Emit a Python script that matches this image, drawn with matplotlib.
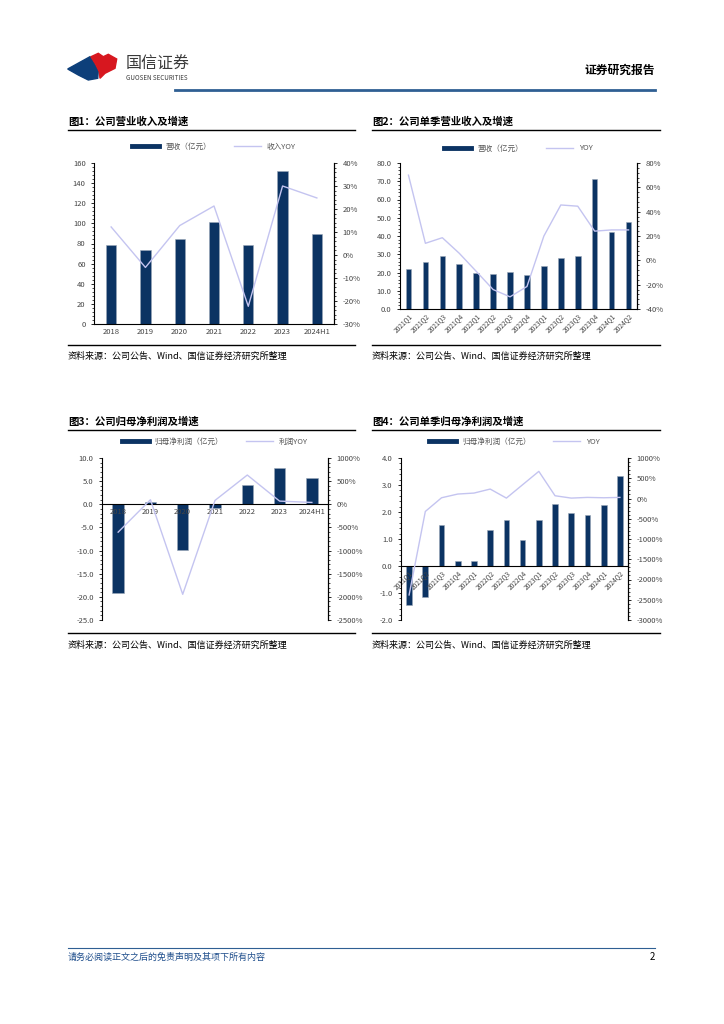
import matplotlib
matplotlib.use("Agg")
import matplotlib.pyplot as plt
import matplotlib.patches as mpatches
from matplotlib.lines import Line2D
from matplotlib.ticker import FuncFormatter, MultipleLocator, AutoMinorLocator

plt.rcParams['font.family'] = ['Noto Sans CJK SC', 'DejaVu Sans']
plt.rcParams['axes.unicode_minus'] = False

W, H = 724, 1024
NAVY = '#0b3363'
LAV = '#c4c4f0'
BLUE_LINE = '#2f5f93'

# ---- data ----
years = ['2018', '2019', '2020', '2021', '2022', '2023', '2024H1']
quarters = ['2021Q1', '2021Q2', '2021Q3', '2021Q4', '2022Q1', '2022Q2', '2022Q3',
            '2022Q4', '2023Q1', '2023Q2', '2023Q3', '2023Q4', '2024Q1', '2024Q2']

rev_year = [78.2, 73.5, 84.1, 101.0, 78.2, 152.0, 89.8]
rev_year_yoy = [12.2, -5.4, 12.8, 21.3, -22.3, 30.0, 24.8]

rev_q = [22.0, 25.8, 29.1, 24.4, 19.8, 19.3, 20.2, 18.9, 23.8, 28.2, 29.1, 71.1, 42.2, 47.6]
rev_q_yoy = [70.0, 14.0, 18.6, 5.8, -9.0, -24.0, -30.0, -21.5, 20.0, 45.5, 44.5, 24.0, 25.0, 25.0]

np_year = [-19.1, 0.4, -9.8, -0.75, 4.2, 7.9, 5.7]
np_year_yoy = [-602, 98, -1945, 84, 632, 69, 40]

np_q = [-1.46, -1.13, 1.53, 0.2, 0.2, 1.34, 1.71, 0.95, 1.71, 2.31, 1.97, 1.9, 2.26, 3.35]
np_q_yoy = [-2381, -320, 18, 110, 134, 233, 10, 340, 670, 68, 10, 27, 18, 27]

fig = plt.figure(figsize=(W / 100, H / 100), dpi=100)


def px_axes(x0, y0, x1, y1):
    return fig.add_axes([x0 / W, 1 - y1 / H, (x1 - x0) / W, (y1 - y0) / H])


def ftext(x, y, s, **kw):
    fig.text(x / W, 1 - y / H, s, **kw)


def fline(x0, x1, y, color='black', lw=1.0):
    fig.add_artist(Line2D([x0 / W, x1 / W], [1 - y / H, 1 - y / H], color=color, lw=lw))


def fpoly(pts, color):
    fig.add_artist(mpatches.Polygon([(px / W, 1 - py / H) for px, py in pts], closed=True,
                                    color=color, transform=fig.transFigure))


# ---- header ----
fpoly([(67.7, 69), (90, 56.7), (94.3, 63.3), (98.3, 71), (97.7, 78.3), (88.3, 80), (78.3, 75)],
      '#0d3f7a')
fpoly([(91, 56.7), (98.3, 53.3), (103.3, 56.7), (108.3, 54.3), (116.7, 59), (115, 68.3),
       (105, 73.3), (100, 78.3), (99.3, 71.7), (95.7, 64.3)], '#d7171f')
ftext(126, 64, '国信证券', fontsize=11.5, color='#3a3a3a', va='center')
ftext(126, 78, 'GUOSEN SECURITIES', fontsize=4.5, color='#3a3a3a', va='center')
ftext(655, 70, '证券研究报告', fontsize=8.5, fontweight='bold', ha='right', va='center')
fline(175, 655, 90, color=BLUE_LINE, lw=2)

# ---- footer ----
fline(68, 655, 948, color=BLUE_LINE, lw=0.8)
ftext(68, 957, '请务必阅读正文之后的免责声明及其项下所有内容', fontsize=6.5, color='#1f4e8c',
      style='italic', va='center')
ftext(655, 957, '2', fontsize=7, ha='right', va='center')

TICK_FS = 5.5
SRC = '资料来源：公司公告、Wind、国信证券经济研究所整理'


def panel_frame(x0, x1, ytitle, yline, ysrc_line, ysrc, title):
    ftext(x0, ytitle, title, fontsize=7.5, fontweight='bold', va='center')
    fline(x0, x1, yline, lw=1.0)
    fline(x0, x1, ysrc_line, lw=1.0)
    ftext(x0, ysrc, SRC, fontsize=6.5, va='center')


def style_axes(ax, ax2):
    for a in (ax, ax2):
        a.spines['top'].set_visible(False)
        a.tick_params(labelsize=TICK_FS, colors='black', labelcolor='#444444',
                      length=2.5, width=0.6)
    ax.spines['left'].set_linewidth(0.8)
    ax2.spines['right'].set_linewidth(0.8)
    ax2.spines['left'].set_visible(False)
    ax2.spines['bottom'].set_visible(False)
    ax2.yaxis.set_minor_locator(AutoMinorLocator(5))
    ax2.tick_params(axis='y', which='minor', length=1.5, width=0.5)
    ax.yaxis.set_minor_locator(AutoMinorLocator(5))
    ax.tick_params(axis='y', which='minor', length=1.5, width=0.5)


def add_legend(ax, bar_label, line_label, y_fig):
    handles = [Line2D([], [], color=NAVY, lw=3.5), Line2D([], [], color=LAV, lw=1.0)]
    ax.legend(handles, [bar_label, line_label], loc='center', ncol=2, frameon=False,
              fontsize=5.5, handlelength=3.5, columnspacing=3,
              bbox_to_anchor=(0.5, y_fig), bbox_transform=ax.transAxes,
              labelcolor='#555555')


pct = FuncFormatter(lambda v, p: f'{v:.0f}%')
one_dec = FuncFormatter(lambda v, p: f'{v:.1f}')

# ---- chart 1 ----
panel_frame(68, 355, 122, 130, 345, 356, '图1：公司营业收入及增速')
ax = px_axes(94, 163, 334, 324)
ax2 = ax.twinx()
x = range(len(years))
ax.bar(x, rev_year, width=0.3, color=NAVY, edgecolor='#9aa7b8', linewidth=0.4)
ax2.plot(x, rev_year_yoy, color=LAV, lw=1.0)
ax.set_xlim(-0.5, len(years) - 0.5)
ax.set_ylim(0, 160)
ax.yaxis.set_major_locator(MultipleLocator(20))
ax2.set_ylim(-30, 40)
ax2.yaxis.set_major_locator(MultipleLocator(10))
ax2.yaxis.set_major_formatter(pct)
ax.set_xticks(list(x))
ax.set_xticklabels(years)
style_axes(ax, ax2)
ax.tick_params(axis='x', length=0, pad=3)
add_legend(ax, '营收（亿元）', '收入YOY', 1.1)

# ---- chart 2 ----
panel_frame(372, 660, 122, 130, 345, 356, '图2：公司单季营业收入及增速')
ax = px_axes(400, 163, 637, 309)
ax2 = ax.twinx()
x = range(len(quarters))
ax.bar(x, rev_q, width=0.33, color=NAVY, edgecolor='#9aa7b8', linewidth=0.4)
ax2.plot(x, rev_q_yoy, color=LAV, lw=1.0)
ax.set_xlim(-0.5, len(quarters) - 0.5)
ax.set_ylim(0, 80)
ax.yaxis.set_major_locator(MultipleLocator(10))
ax.yaxis.set_major_formatter(one_dec)
ax2.set_ylim(-40, 80)
ax2.yaxis.set_major_locator(MultipleLocator(20))
ax2.yaxis.set_major_formatter(pct)
ax.set_xticks(list(x))
ax.set_xticklabels(quarters, rotation=45, ha='right', rotation_mode='anchor', fontsize=4.8)
style_axes(ax, ax2)
ax.tick_params(axis='x', length=0, pad=2, labelsize=4.8)
add_legend(ax, '营收（亿元）', 'YOY', 1.1)

# ---- chart 3 ----
panel_frame(68, 355, 422, 430, 633, 645, '图3：公司归母净利润及增速')
ax = px_axes(102, 458, 328, 620)
ax2 = ax.twinx()
x = range(len(years))
ax.bar(x, np_year, width=0.35, color=NAVY, edgecolor='#9aa7b8', linewidth=0.4)
ax2.plot(x, np_year_yoy, color=LAV, lw=1.0)
ax.set_xlim(-0.5, len(years) - 0.5)
ax.set_ylim(-25, 10)
ax.yaxis.set_major_locator(MultipleLocator(5))
ax.yaxis.set_major_formatter(one_dec)
ax2.set_ylim(-2500, 1000)
ax2.yaxis.set_major_locator(MultipleLocator(500))
ax2.yaxis.set_major_formatter(pct)
style_axes(ax, ax2)
ax.spines['bottom'].set_position(('data', 0))
ax.spines['bottom'].set_linewidth(0.8)
ax.set_xticks(list(x))
ax.set_xticklabels(years)
ax.tick_params(axis='x', length=0, pad=3)
add_legend(ax, '归母净利润（亿元）', '利润YOY', 1.1)

# ---- chart 4 ----
panel_frame(372, 660, 422, 430, 633, 645, '图4：公司单季归母净利润及增速')
ax = px_axes(401, 458, 628, 620)
ax2 = ax.twinx()
x = range(len(quarters))
ax.bar(x, np_q, width=0.35, color=NAVY, edgecolor='#9aa7b8', linewidth=0.4)
ax2.plot(x, np_q_yoy, color=LAV, lw=1.0)
ax.set_xlim(-0.5, len(quarters) - 0.5)
ax.set_ylim(-2, 4)
ax.yaxis.set_major_locator(MultipleLocator(1))
ax.yaxis.set_major_formatter(one_dec)
ax2.set_ylim(-3000, 1000)
ax2.yaxis.set_major_locator(MultipleLocator(500))
ax2.yaxis.set_major_formatter(pct)
style_axes(ax, ax2)
ax.spines['bottom'].set_position(('data', 0))
ax.spines['bottom'].set_linewidth(0.8)
ax.set_xticks(list(x))
ax.set_xticklabels(quarters, rotation=45, ha='right', rotation_mode='anchor', fontsize=4.8)
ax.tick_params(axis='x', length=0, pad=2, labelsize=4.8)
add_legend(ax, '归母净利润（亿元）', 'YOY', 1.1)

fig.savefig('out.png', dpi=100)
